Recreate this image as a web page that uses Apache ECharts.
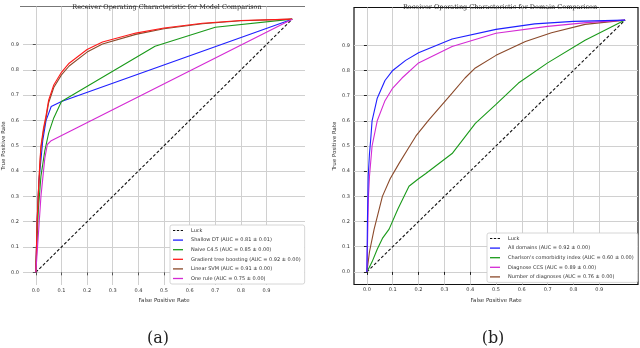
<!DOCTYPE html>
<html>
<head>
<meta charset="utf-8">
<script src="https://cdn.jsdelivr.net/npm/echarts@6/dist/echarts.min.js"></script>
<style>
  html, body { margin: 0; padding: 0; background: #fff; }
  #chart { width: 640px; height: 348px; }
</style>
</head>
<body>
<div id="chart"></div>
<script>
// tick values shared by both panels
const tickValues = [0, 0.1, 0.2, 0.3, 0.4, 0.5, 0.6, 0.7, 0.8, 0.9]
const luckFpr = [0, 1]
const luckTpr = [0, 1]

// (a) model comparison
const shallowDtFpr = [0, 0.005, 0.012, 0.027, 0.04, 0.06, 0.1, 1]
const shallowDtTpr = [0, 0.2, 0.36, 0.52, 0.6, 0.655, 0.675, 1]
const naiveFpr = [0, 0.01, 0.02, 0.035, 0.05, 0.07, 0.1, 0.465, 0.7, 1]
const naiveTpr = [0, 0.25, 0.38, 0.48, 0.55, 0.61, 0.675, 0.893, 0.968, 1]
const gtbFpr = [0, 0.005, 0.01, 0.015, 0.02, 0.03, 0.04, 0.05, 0.07, 0.1, 0.13, 0.2, 0.26, 0.39, 0.5, 0.65, 0.8, 1]
const gtbTpr = [0, 0.2, 0.32, 0.42, 0.5, 0.57, 0.62, 0.68, 0.74, 0.79, 0.826, 0.88, 0.91, 0.945, 0.965, 0.984, 0.995, 1]
const svmFpr = [0, 0.005, 0.01, 0.015, 0.02, 0.03, 0.04, 0.05, 0.07, 0.1, 0.13, 0.2, 0.26, 0.39, 0.5, 0.65, 0.8, 1]
const svmTpr = [0, 0.19, 0.31, 0.41, 0.49, 0.56, 0.61, 0.67, 0.73, 0.78, 0.815, 0.87, 0.902, 0.94, 0.962, 0.982, 0.994, 1]
const oneRuleFpr = [0, 0.01, 0.02, 0.035, 0.045, 0.06, 1]
const oneRuleTpr = [0, 0.15, 0.3, 0.45, 0.505, 0.52, 1]

// (b) domain comparison
const allDomFpr = [0, 0.002, 0.005, 0.01, 0.015, 0.02, 0.04, 0.07, 0.1, 0.15, 0.2, 0.33, 0.5, 0.65, 0.8, 1]
const allDomTpr = [0, 0.2, 0.38, 0.47, 0.53, 0.6, 0.69, 0.76, 0.8, 0.84, 0.87, 0.925, 0.963, 0.985, 0.995, 1]
const charlsonFpr = [0, 0.02, 0.04, 0.06, 0.086, 0.12, 0.163, 0.2, 0.227, 0.33, 0.42, 0.5, 0.587, 0.7, 0.845, 1]
const charlsonTpr = [0, 0.04, 0.09, 0.133, 0.17, 0.25, 0.34, 0.37, 0.39, 0.47, 0.59, 0.665, 0.75, 0.83, 0.92, 1]
const ccsFpr = [0, 0.003, 0.006, 0.01, 0.02, 0.04, 0.07, 0.1, 0.136, 0.2, 0.33, 0.5, 0.7, 0.85, 1]
const ccsTpr = [0, 0.15, 0.3, 0.38, 0.5, 0.6, 0.68, 0.73, 0.77, 0.83, 0.895, 0.948, 0.975, 0.99, 1]
const nDiagFpr = [0, 0.01, 0.028, 0.06, 0.09, 0.124, 0.16, 0.19, 0.24, 0.33, 0.38, 0.42, 0.5, 0.614, 0.715, 0.845, 1]
const nDiagTpr = [0, 0.08, 0.17, 0.3, 0.37, 0.43, 0.49, 0.54, 0.604, 0.71, 0.77, 0.81, 0.86, 0.915, 0.95, 0.983, 1]

const zip = (xs, ys) => xs.map((x, i) => [x, ys[i]])

const tickFont = { fontSize: 5, color: "#333", fontFamily: "DejaVu Sans" }

const makeX = (gridIndex, lineColor) => ({
  type: "value", gridIndex, min: -0.05, max: 1.05,
  name: "False Positive Rate", nameLocation: "middle", nameGap: 11,
  nameTextStyle: { fontSize: 5.5, color: "#333", fontFamily: "DejaVu Sans" },
  axisLine: { show: false },
  axisTick: { show: true, length: 3, customValues: tickValues, lineStyle: { color: lineColor } },
  axisLabel: { ...tickFont, margin: 3, customValues: tickValues, formatter: v => v.toFixed(1) },
  splitLine: { show: true, lineStyle: { color: "#d0d0d0", width: 1 } }
})
const makeY = (gridIndex, lineColor) => ({
  type: "value", gridIndex, min: -0.05, max: 1.05,
  name: "True Positive Rate", nameLocation: "middle", nameGap: 16,
  nameTextStyle: { fontSize: 5.5, color: "#333", fontFamily: "DejaVu Sans" },
  axisLine: { show: false },
  axisTick: { show: true, length: 3, customValues: tickValues, lineStyle: { color: lineColor } },
  axisLabel: { ...tickFont, margin: 4, customValues: tickValues, formatter: v => v.toFixed(1) },
  splitLine: { show: true, lineStyle: { color: "#d0d0d0", width: 1 } }
})

const line = (name, idx, xs, ys, color, dashed) => ({
  name, type: "line", xAxisIndex: idx, yAxisIndex: idx,
  data: zip(xs, ys), symbol: "none", smooth: false, animation: false,
  lineStyle: { color, width: 1.1, type: dashed ? [3, 2] : "solid" },
  itemStyle: { color }
})

const dashIcon = "path://M0,0h3v1h-3z M5,0h3v1h-3z M10,0h3v1h-3z"
const legendBase = {
  orient: "vertical", backgroundColor: "#fff", borderColor: "#ccc", borderWidth: 0.8,
  borderRadius: 2, padding: [3, 4, 3, 3], icon: "rect", itemWidth: 10, itemHeight: 1.3, itemGap: 4.6,
  textStyle: { fontSize: 5, color: "#333", fontFamily: "DejaVu Sans", padding: [0, 0, 0, 3] }
}

const names = {
  luck: "Luck",
  sdt: "Shallow DT (AUC = 0.81 \u00b1 0.01)",
  nb: "Naive C4.5 (AUC = 0.85 \u00b1 0.00)",
  gtb: "Gradient tree boosting (AUC = 0.92 \u00b1 0.00)",
  svm: "Linear SVM (AUC = 0.91 \u00b1 0.00)",
  one: "One rule (AUC = 0.75 \u00b1 0.00)",
  all: "All domains (AUC = 0.92 \u00b1 0.00)",
  cci: "Charlson's comorbidity index (AUC = 0.60 \u00b1 0.00)",
  ccs: "Diagnose CCS (AUC = 0.89 \u00b1 0.00)",
  nd: "Number of diagnoses (AUC = 0.76 \u00b1 0.00)"
}

const chart = echarts.init(document.getElementById("chart"), null, { renderer: "canvas" })
chart.setOption({
  animation: false,
  title: [
    { text: "Receiver Operating Characteristic for Model Comparison", left: 162, top: -1, textAlign: "center",
      textStyle: { fontSize: 6.5, fontWeight: "normal", color: "#222", fontFamily: "DejaVu Serif" } },
    { text: "Receiver Operating Characteristic for Domain Comparison", left: 495, top: -1, textAlign: "center",
      textStyle: { fontSize: 6.5, fontWeight: "normal", color: "#222", fontFamily: "DejaVu Serif" } },
    { text: "(a)", left: 153, top: 326, textAlign: "center",
      textStyle: { fontSize: 16, fontWeight: "normal", color: "#222", fontFamily: "DejaVu Serif" } },
    { text: "(b)", left: 488, top: 326, textAlign: "center",
      textStyle: { fontSize: 16, fontWeight: "normal", color: "#222", fontFamily: "DejaVu Serif" } }
  ],
  grid: [
    { left: 20, top: 6.5, width: 285, height: 278.5, show: false },
    { left: 354, top: 7.5, width: 284, height: 277, show: true, borderColor: "#111", borderWidth: 1.2, backgroundColor: "transparent" }
  ],
  xAxis: [makeX(0, "#555"), makeX(1, "#222")],
  yAxis: [makeY(0, "#555"), makeY(1, "#222")],
  legend: [
    { ...legendBase, left: 170, top: 225,
      data: [{ name: names.luck, icon: dashIcon }, names.sdt, names.nb, names.gtb, names.svm, names.one] },
    { ...legendBase, left: 487, top: 233,
      data: [{ name: names.luck, icon: dashIcon }, names.all, names.cci, names.ccs, names.nd] }
  ],
  graphic: [
    { type: "line", shape: { x1: 20, y1: 6.5, x2: 305, y2: 6.5 }, style: { stroke: "#777", lineWidth: 1.2 }, silent: true }
  ],
  series: [
    line(names.luck, 0, luckFpr, luckTpr, "#111", true),
    line(names.sdt, 0, shallowDtFpr, shallowDtTpr, "#1f1fff", false),
    line(names.nb, 0, naiveFpr, naiveTpr, "#1a9a1a", false),
    line(names.svm, 0, svmFpr, svmTpr, "#8b4a2b", false),
    line(names.gtb, 0, gtbFpr, gtbTpr, "#ff1a1a", false),
    line(names.one, 0, oneRuleFpr, oneRuleTpr, "#d42ad4", false),
    line(names.luck, 1, luckFpr, luckTpr, "#111", true),
    line(names.cci, 1, charlsonFpr, charlsonTpr, "#1a9a1a", false),
    line(names.nd, 1, nDiagFpr, nDiagTpr, "#8b4a2b", false),
    line(names.ccs, 1, ccsFpr, ccsTpr, "#d42ad4", false),
    line(names.all, 1, allDomFpr, allDomTpr, "#1f1fff", false)
  ]
})
</script>
</body>
</html>
